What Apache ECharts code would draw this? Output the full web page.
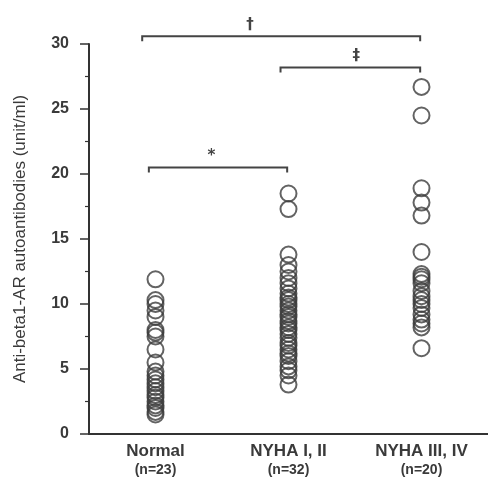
<!DOCTYPE html>
<html>
<head>
<meta charset="utf-8">
<script src="https://cdn.jsdelivr.net/npm/echarts@6/dist/echarts.min.js"></script>
<style>
html,body{margin:0;padding:0;background:#fff;}
#chart{width:488px;height:484px;}
</style>
</head>
<body>
<div id="chart"></div>
<script>
const categories = ['Normal', 'NYHA I, II', 'NYHA III, IV'];
const groupSizes = ['(n=23)', '(n=32)', '(n=20)'];
const normalValues = [11.9, 10.3, 10.0, 9.5, 9.0, 8.0, 7.8, 7.5, 6.5, 5.5, 4.8, 4.5, 4.2, 3.9, 3.6, 3.3, 3.0, 2.8, 2.5, 2.2, 2.0, 1.7, 1.5];
const nyha12Values = [18.5, 17.3, 13.8, 13.0, 12.5, 12.0, 11.6, 11.2, 10.8, 10.5, 10.3, 10.0, 9.8, 9.5, 9.2, 9.0, 8.7, 8.5, 8.2, 8.0, 7.7, 7.4, 7.0, 6.8, 6.5, 6.2, 6.0, 5.6, 5.2, 4.9, 4.5, 3.8];
const nyha34Values = [26.7, 24.5, 18.9, 17.8, 16.8, 14.0, 12.3, 12.1, 11.9, 11.6, 11.0, 10.6, 10.3, 10.0, 9.7, 9.2, 8.8, 8.5, 8.2, 6.6];
const yMin = 0, yMax = 30, yStep = 5;
const yAxisTitle = 'Anti-beta1-AR autoantibodies (unit/ml)';
// significance brackets: from group, to group, level, mark position, mark
const bracketFrom = [-0.1, 0.94, -0.05];
const bracketTo = [1.99, 1.99, 0.99];
const bracketLevel = [30.6, 28.2, 20.5];
const bracketMarkAt = [0.71, 1.51, 0.42];
const bracketMarks = ['\u2020', '\u2021', '*'];

const groups = [normalValues, nyha12Values, nyha34Values];
const pointData = [];
groups.forEach((vals, gi) => vals.forEach(v => pointData.push([gi, v])));
const bracketData = bracketFrom.map((f, i) => [f, bracketTo[i], bracketLevel[i], bracketMarkAt[i]]);

const textColor = '#3a3a3a';
const lineColor = '#333';
const chart = echarts.init(document.getElementById('chart'), null, {renderer: 'canvas'});
chart.setOption({
  animation: false,
  backgroundColor: '#fff',
  grid: {left: 89, right: -3, top: 44, bottom: 50, containLabel: false},
  xAxis: [{
    type: 'category',
    data: categories,
    boundaryGap: true,
    axisLine: {onZero: false, lineStyle: {color: lineColor, width: 2}},
    axisTick: {alignWithLabel: true, length: 4, lineStyle: {color: lineColor, width: 1.5}},
    axisLabel: {
      margin: 7,
      interval: 0,
      formatter: (v, i) => '{a|' + v + '}\n{b|' + groupSizes[i] + '}',
      rich: {
        a: {fontFamily: 'Liberation Sans', fontWeight: 'bold', fontSize: 17, color: textColor, lineHeight: 20},
        b: {fontFamily: 'Liberation Sans', fontWeight: 'bold', fontSize: 14, color: textColor, lineHeight: 19}
      }
    },
    splitLine: {show: false}
  }, {
    type: 'value', show: false, min: -0.5, max: 2.5, position: 'bottom',
    axisLine: {onZero: false}
  }],
  yAxis: {
    type: 'value',
    min: yMin, max: yMax, interval: yStep,
    name: yAxisTitle,
    nameLocation: 'middle',
    nameGap: 60,
    nameRotate: 90,
    nameTextStyle: {fontFamily: 'Liberation Sans', fontSize: 17, color: textColor},
    axisLine: {show: true, onZero: false, lineStyle: {color: lineColor, width: 2}},
    axisTick: {show: true, length: 9, lineStyle: {color: lineColor, width: 1.5}},
    minorTick: {show: true, splitNumber: 2, length: 4, lineStyle: {color: lineColor, width: 1.2}},
    axisLabel: {fontFamily: 'Liberation Sans', fontWeight: 'bold', fontSize: 16, color: textColor, margin: 20},
    splitLine: {show: false}
  },
  series: [{
    type: 'scatter',
    xAxisIndex: 0,
    data: pointData,
    symbol: 'circle',
    symbolSize: 16,
    itemStyle: {color: 'rgba(0,0,0,0)', borderColor: '#3c3c3c', borderWidth: 2},
    emphasis: {disabled: true}
  }, {
    type: 'custom',
    xAxisIndex: 1,
    clip: false,
    data: bracketData,
    renderItem: (params, api) => {
      const p1 = api.coord([api.value(0), api.value(2)]);
      const p2 = api.coord([api.value(1), api.value(2)]);
      const pm = api.coord([api.value(3), api.value(2)]);
      const drop = 5;
      return {
        type: 'group',
        children: [{
          type: 'polyline',
          shape: {points: [[p1[0], p1[1] + drop], [p1[0], p1[1]], [p2[0], p2[1]], [p2[0], p2[1] + drop]]},
          style: {stroke: '#444', lineWidth: 2, fill: null}
        }, {
          type: 'text',
          x: pm[0], y: p1[1] - 4,
          style: {text: bracketMarks[params.dataIndex], fontFamily: 'DejaVu Sans', fontSize: 15, fontWeight: 'bold', fill: '#444', align: 'center', verticalAlign: 'bottom'}
        }]
      };
    }
  }]
});
</script>
</body>
</html>
